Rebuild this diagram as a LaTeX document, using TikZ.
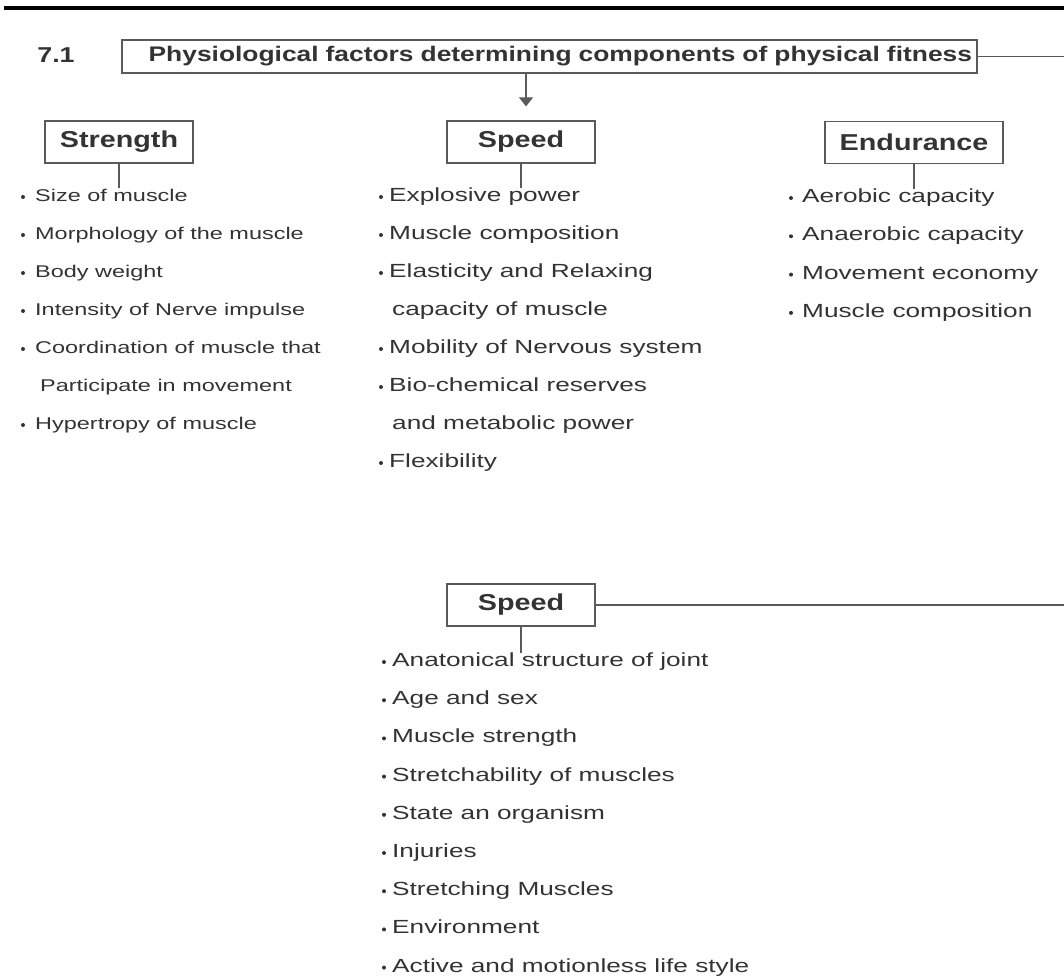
\documentclass[tikz,border=0pt]{standalone}
\usepackage{fontspec}
\setmainfont{Liberation Sans}
\newfontfamily\itemfont[FakeStretch=1.38]{Liberation Sans}
\newfontfamily\labelfont[FakeStretch=1.25]{Liberation Sans Bold}
\usetikzlibrary{positioning,arrows.meta}
\definecolor{inkgray}{HTML}{333333}
\definecolor{linegray}{HTML}{5A5A5A}

\newcommand{\strengthfactors}{
        1/Size of muscle, 1/Morphology of the muscle, 1/Body weight,
        1/Intensity of Nerve impulse, 1/Coordination of muscle that,
        0/Participate in movement, 1/Hypertropy of muscle
    }
\newcommand{\speedfactors}{
        1/Explosive power, 1/Muscle composition, 1/Elasticity and Relaxing,
        0/capacity of muscle, 1/Mobility of Nervous system,
        1/Bio-chemical reserves, 0/and metabolic power, 1/Flexibility
    }
\newcommand{\staminafactors}{
        1/Aerobic capacity, 1/Anaerobic capacity, 1/Movement economy,
        1/Muscle composition
    }
\newcommand{\flexfactors}{
        1/Anatonical structure of joint, 1/Age and sex, 1/Muscle strength,
        1/Stretchability of muscles, 1/State an organism, 1/Injuries,
        1/Stretching Muscles, 1/Environment, 1/Active and motionless life style
    }

\begin{document}
\begin{tikzpicture}[x=1pt, y=-1pt,
        item/.style={anchor=west, inner sep=0pt, text=inkgray, text height=13pt, text depth=0pt,
            font=\itemfont\fontsize{19}{21}\selectfont},
        small item/.style={item, font=\itemfont\fontsize{17}{19}\selectfont},
        dot/.style={circle, fill=inkgray, inner sep=0pt, minimum size=4pt},
        factorbox/.style={draw=linegray, line width=1.2pt, text=inkgray, minimum height=42pt,
            font=\labelfont\fontsize{23}{26}\selectfont},
        conn/.style={draw=linegray, line width=1.1pt}]
        \useasboundingbox (0,0) rectangle (1064,977);
        % Top rule
        \draw[line width=4pt] (4,8) -- (1064,8);
        \coordinate (frameright) at (1064,0);

        % Heading
        \node[text=inkgray, font=\labelfont\fontsize{21.5}{24}\selectfont] (secnum) at (56,55) {7.1};
        \node[draw=linegray, line width=1.2pt, text=inkgray, minimum width=855pt, minimum height=33pt,
            inner xsep=0pt, text width=845pt, align=right,
            font=\labelfont\fontsize{21.1}{24}\selectfont] (title) at (549.5,56.5)
            {Physiological factors determining components of physical fitness};
        \draw[conn] (title.east) -- (title.east -| frameright);

        % Draw boxes (Factors)
        \node[factorbox, minimum width=148pt] (strength) at (119,142) {Strength};
        \node[factorbox, minimum width=148pt] (speed) at (521,142) {Speed};
        \node[factorbox, minimum width=178pt] (endurance) at (914,142.5) {Endurance};
        \node[factorbox, minimum width=148pt] (flexibility) at (521,605) {Speed};

        \coordinate (arrowtip) at ([xshift=5pt, yshift=14pt]speed.north);
        \draw[conn, -{Triangle[length=9pt, width=14pt]}] (title.south -| arrowtip) -- (arrowtip);
        \draw[conn] (flexibility.east) -- (flexibility.east -| frameright);

        % Draw lists (Components)
        \foreach [count=\i] \b/\t in \strengthfactors{
            \ifnum\b=1
                \node[small item] (s\i) at (35,{157+38*\i}) {\t};
                \node[dot] (sb\i) at (23,{159+38*\i}) {};
            \else
                % Continued line, no bullet
                \node[small item] (s\i) at (40,{157+38*\i}) {\t};
            \fi
        }
        \foreach [count=\i] \b/\t in \speedfactors{
            \ifnum\b=1
                \node[item] (p\i) at (389,{157+38*\i}) {\t};
                \node[dot] (pb\i) at (381,{159+38*\i}) {};
            \else
                \node[item] (p\i) at (392,{157+38*\i}) {\t};
            \fi
        }
        \foreach [count=\i] \b/\t in \staminafactors{
            \node[item] (e\i) at (802,{157.7+38.3*\i}) {\t};
            \node[dot] (eb\i) at (791,{159.7+38.3*\i}) {};
        }
        \foreach [count=\i] \b/\t in \flexfactors{
            \node[item] (f\i) at (392,{621.8+38.2*\i}) {\t};
            \node[dot] (fb\i) at (384,{623.8+38.2*\i}) {};
        }

        % Draw stems (Edges)
        \draw[conn] (strength.south) -- (strength.south |- s1.north);
        \draw[conn] (speed.south) -- (speed.south |- p1.north);
        \draw[conn] (endurance.south) -- (endurance.south |- e1.north);
        \draw[conn] (flexibility.south) -- (flexibility.south |- f1.north);
    \end{tikzpicture}
\end{document}
